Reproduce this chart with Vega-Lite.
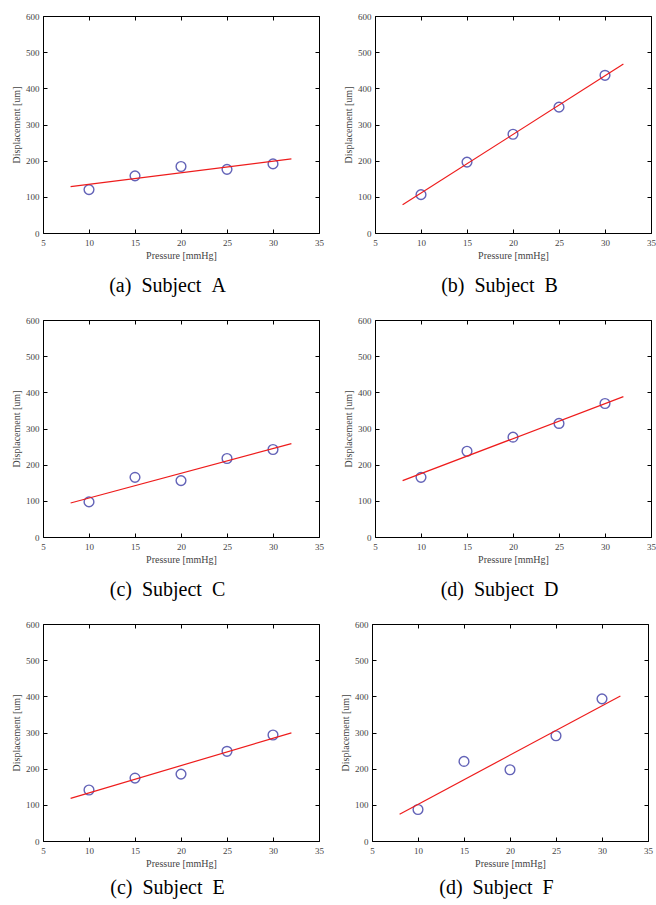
{
  "$schema": "https://vega.github.io/schema/vega-lite/v6.json",
  "background": "white",
  "padding": {"left": 11, "top": 11, "right": 0, "bottom": 0},
  "datasets": {
    "points": [
      {"subject": "A", "pressure": 10, "displacement": 120},
      {"subject": "A", "pressure": 15, "displacement": 158},
      {"subject": "A", "pressure": 20, "displacement": 184},
      {"subject": "A", "pressure": 25, "displacement": 176},
      {"subject": "A", "pressure": 30, "displacement": 191},
      {"subject": "B", "pressure": 10, "displacement": 106},
      {"subject": "B", "pressure": 15, "displacement": 196},
      {"subject": "B", "pressure": 20, "displacement": 273},
      {"subject": "B", "pressure": 25, "displacement": 348},
      {"subject": "B", "pressure": 30, "displacement": 436},
      {"subject": "C", "pressure": 10, "displacement": 97},
      {"subject": "C", "pressure": 15, "displacement": 165},
      {"subject": "C", "pressure": 20, "displacement": 156},
      {"subject": "C", "pressure": 25, "displacement": 217},
      {"subject": "C", "pressure": 30, "displacement": 242},
      {"subject": "D", "pressure": 10, "displacement": 165},
      {"subject": "D", "pressure": 15, "displacement": 237},
      {"subject": "D", "pressure": 20, "displacement": 276},
      {"subject": "D", "pressure": 25, "displacement": 314},
      {"subject": "D", "pressure": 30, "displacement": 369},
      {"subject": "E", "pressure": 10, "displacement": 141},
      {"subject": "E", "pressure": 15, "displacement": 174},
      {"subject": "E", "pressure": 20, "displacement": 185},
      {"subject": "E", "pressure": 25, "displacement": 248},
      {"subject": "E", "pressure": 30, "displacement": 293},
      {"subject": "F", "pressure": 10, "displacement": 87},
      {"subject": "F", "pressure": 15, "displacement": 220},
      {"subject": "F", "pressure": 20, "displacement": 197},
      {"subject": "F", "pressure": 25, "displacement": 291},
      {"subject": "F", "pressure": 30, "displacement": 393}
    ],
    "fits": [
      {"subject": "A", "pressure": 8, "displacement": 128},
      {"subject": "A", "pressure": 32, "displacement": 205},
      {"subject": "B", "pressure": 8, "displacement": 78},
      {"subject": "B", "pressure": 32, "displacement": 467},
      {"subject": "C", "pressure": 8, "displacement": 94},
      {"subject": "C", "pressure": 32, "displacement": 258},
      {"subject": "D", "pressure": 8, "displacement": 156},
      {"subject": "D", "pressure": 32, "displacement": 388},
      {"subject": "E", "pressure": 8, "displacement": 118},
      {"subject": "E", "pressure": 32, "displacement": 299},
      {"subject": "F", "pressure": 8, "displacement": 74},
      {"subject": "F", "pressure": 32, "displacement": 401}
    ]
  },
  "config": {
    "font": "Liberation Serif",
    "view": {"stroke": "black", "strokeWidth": 1},
    "axis": {
      "grid": false,
      "domain": false,
      "tickSize": -4,
      "tickColor": "black",
      "tickWidth": 1,
      "labelFont": "Liberation Serif",
      "labelFontSize": 9,
      "labelColor": "#444444",
      "labelFlush": false,
      "labelOverlap": false,
      "titleFont": "Liberation Serif",
      "titleFontSize": 10,
      "titleFontWeight": "normal",
      "titleColor": "#444444"
    },
    "title": {
      "orient": "bottom",
      "anchor": "middle",
      "frame": "bounds",
      "font": "Liberation Serif",
      "fontSize": 20,
      "fontWeight": "normal",
      "color": "black",
      "offset": 16
    }
  },
  "spacing": 18,
  "vconcat": [
    {
      "spacing": 19,
      "hconcat": [
        {
          "width": 276, "height": 217,
          "title": "(a)\u2002Subject\u2002A",
          "layer": [
            {"data": {"name": "points"}, "transform": [{"filter": "datum.subject == 'A'"}],
             "mark": {"type": "point", "shape": "circle", "filled": false, "color": "#22229a", "size": 95, "strokeWidth": 1.4},
             "encoding": {
               "x": {"field": "pressure", "type": "quantitative", "scale": {"domain": [5, 35], "nice": false, "zero": false}, "axis": {"values": [5, 10, 15, 20, 25, 30, 35], "title": "Pressure [mmHg]", "labelPadding": 9, "titlePadding": 3}},
               "y": {"field": "displacement", "type": "quantitative", "scale": {"domain": [0, 600], "nice": false}, "axis": {"values": [0, 100, 200, 300, 400, 500, 600], "title": "Displacement [um]", "labelPadding": 8, "titlePadding": 4}}
             }},
            {"data": {"name": "fits"}, "transform": [{"filter": "datum.subject == 'A'"}],
             "mark": {"type": "line", "color": "#ee1c1c", "strokeWidth": 1.2},
             "encoding": {
               "x": {"field": "pressure", "type": "quantitative", "axis": {"orient": "top", "values": [5, 10, 15, 20, 25, 30, 35], "labels": false, "title": null}},
               "y": {"field": "displacement", "type": "quantitative", "axis": {"orient": "right", "values": [0, 100, 200, 300, 400, 500, 600], "labels": false, "title": null}}
             }}
          ],
          "resolve": {"axis": {"x": "independent", "y": "independent"}}
        },
        {
          "width": 276, "height": 217,
          "title": "(b)\u2002Subject\u2002B",
          "layer": [
            {"data": {"name": "points"}, "transform": [{"filter": "datum.subject == 'B'"}],
             "mark": {"type": "point", "shape": "circle", "filled": false, "color": "#22229a", "size": 95, "strokeWidth": 1.4},
             "encoding": {
               "x": {"field": "pressure", "type": "quantitative", "scale": {"domain": [5, 35], "nice": false, "zero": false}, "axis": {"values": [5, 10, 15, 20, 25, 30, 35], "title": "Pressure [mmHg]", "labelPadding": 9, "titlePadding": 3}},
               "y": {"field": "displacement", "type": "quantitative", "scale": {"domain": [0, 600], "nice": false}, "axis": {"values": [0, 100, 200, 300, 400, 500, 600], "title": "Displacement [um]", "labelPadding": 8, "titlePadding": 4}}
             }},
            {"data": {"name": "fits"}, "transform": [{"filter": "datum.subject == 'B'"}],
             "mark": {"type": "line", "color": "#ee1c1c", "strokeWidth": 1.2},
             "encoding": {
               "x": {"field": "pressure", "type": "quantitative", "axis": {"orient": "top", "values": [5, 10, 15, 20, 25, 30, 35], "labels": false, "title": null}},
               "y": {"field": "displacement", "type": "quantitative", "axis": {"orient": "right", "values": [0, 100, 200, 300, 400, 500, 600], "labels": false, "title": null}}
             }}
          ],
          "resolve": {"axis": {"x": "independent", "y": "independent"}}
        }
      ]
    },
    {
      "spacing": 19,
      "hconcat": [
        {
          "width": 276, "height": 217,
          "title": "(c)\u2002Subject\u2002C",
          "layer": [
            {"data": {"name": "points"}, "transform": [{"filter": "datum.subject == 'C'"}],
             "mark": {"type": "point", "shape": "circle", "filled": false, "color": "#22229a", "size": 95, "strokeWidth": 1.4},
             "encoding": {
               "x": {"field": "pressure", "type": "quantitative", "scale": {"domain": [5, 35], "nice": false, "zero": false}, "axis": {"values": [5, 10, 15, 20, 25, 30, 35], "title": "Pressure [mmHg]", "labelPadding": 9, "titlePadding": 3}},
               "y": {"field": "displacement", "type": "quantitative", "scale": {"domain": [0, 600], "nice": false}, "axis": {"values": [0, 100, 200, 300, 400, 500, 600], "title": "Displacement [um]", "labelPadding": 8, "titlePadding": 4}}
             }},
            {"data": {"name": "fits"}, "transform": [{"filter": "datum.subject == 'C'"}],
             "mark": {"type": "line", "color": "#ee1c1c", "strokeWidth": 1.2},
             "encoding": {
               "x": {"field": "pressure", "type": "quantitative", "axis": {"orient": "top", "values": [5, 10, 15, 20, 25, 30, 35], "labels": false, "title": null}},
               "y": {"field": "displacement", "type": "quantitative", "axis": {"orient": "right", "values": [0, 100, 200, 300, 400, 500, 600], "labels": false, "title": null}}
             }}
          ],
          "resolve": {"axis": {"x": "independent", "y": "independent"}}
        },
        {
          "width": 276, "height": 217,
          "title": "(d)\u2002Subject\u2002D",
          "layer": [
            {"data": {"name": "points"}, "transform": [{"filter": "datum.subject == 'D'"}],
             "mark": {"type": "point", "shape": "circle", "filled": false, "color": "#22229a", "size": 95, "strokeWidth": 1.4},
             "encoding": {
               "x": {"field": "pressure", "type": "quantitative", "scale": {"domain": [5, 35], "nice": false, "zero": false}, "axis": {"values": [5, 10, 15, 20, 25, 30, 35], "title": "Pressure [mmHg]", "labelPadding": 9, "titlePadding": 3}},
               "y": {"field": "displacement", "type": "quantitative", "scale": {"domain": [0, 600], "nice": false}, "axis": {"values": [0, 100, 200, 300, 400, 500, 600], "title": "Displacement [um]", "labelPadding": 8, "titlePadding": 4}}
             }},
            {"data": {"name": "fits"}, "transform": [{"filter": "datum.subject == 'D'"}],
             "mark": {"type": "line", "color": "#ee1c1c", "strokeWidth": 1.2},
             "encoding": {
               "x": {"field": "pressure", "type": "quantitative", "axis": {"orient": "top", "values": [5, 10, 15, 20, 25, 30, 35], "labels": false, "title": null}},
               "y": {"field": "displacement", "type": "quantitative", "axis": {"orient": "right", "values": [0, 100, 200, 300, 400, 500, 600], "labels": false, "title": null}}
             }}
          ],
          "resolve": {"axis": {"x": "independent", "y": "independent"}}
        }
      ]
    },
    {
      "spacing": 16,
      "hconcat": [
        {
          "width": 276, "height": 217,
          "title": {"text": "(c)\u2002Subject\u2002E", "offset": 10},
          "layer": [
            {"data": {"name": "points"}, "transform": [{"filter": "datum.subject == 'E'"}],
             "mark": {"type": "point", "shape": "circle", "filled": false, "color": "#22229a", "size": 95, "strokeWidth": 1.4},
             "encoding": {
               "x": {"field": "pressure", "type": "quantitative", "scale": {"domain": [5, 35], "nice": false, "zero": false}, "axis": {"values": [5, 10, 15, 20, 25, 30, 35], "title": "Pressure [mmHg]", "labelPadding": 9, "titlePadding": 3}},
               "y": {"field": "displacement", "type": "quantitative", "scale": {"domain": [0, 600], "nice": false}, "axis": {"values": [0, 100, 200, 300, 400, 500, 600], "title": "Displacement [um]", "labelPadding": 8, "titlePadding": 4}}
             }},
            {"data": {"name": "fits"}, "transform": [{"filter": "datum.subject == 'E'"}],
             "mark": {"type": "line", "color": "#ee1c1c", "strokeWidth": 1.2},
             "encoding": {
               "x": {"field": "pressure", "type": "quantitative", "axis": {"orient": "top", "values": [5, 10, 15, 20, 25, 30, 35], "labels": false, "title": null}},
               "y": {"field": "displacement", "type": "quantitative", "axis": {"orient": "right", "values": [0, 100, 200, 300, 400, 500, 600], "labels": false, "title": null}}
             }}
          ],
          "resolve": {"axis": {"x": "independent", "y": "independent"}}
        },
        {
          "width": 276, "height": 217,
          "title": {"text": "(d)\u2002Subject\u2002F", "offset": 10},
          "layer": [
            {"data": {"name": "points"}, "transform": [{"filter": "datum.subject == 'F'"}],
             "mark": {"type": "point", "shape": "circle", "filled": false, "color": "#22229a", "size": 95, "strokeWidth": 1.4},
             "encoding": {
               "x": {"field": "pressure", "type": "quantitative", "scale": {"domain": [5, 35], "nice": false, "zero": false}, "axis": {"values": [5, 10, 15, 20, 25, 30, 35], "title": "Pressure [mmHg]", "labelPadding": 9, "titlePadding": 3}},
               "y": {"field": "displacement", "type": "quantitative", "scale": {"domain": [0, 600], "nice": false}, "axis": {"values": [0, 100, 200, 300, 400, 500, 600], "title": "Displacement [um]", "labelPadding": 8, "titlePadding": 4}}
             }},
            {"data": {"name": "fits"}, "transform": [{"filter": "datum.subject == 'F'"}],
             "mark": {"type": "line", "color": "#ee1c1c", "strokeWidth": 1.2},
             "encoding": {
               "x": {"field": "pressure", "type": "quantitative", "axis": {"orient": "top", "values": [5, 10, 15, 20, 25, 30, 35], "labels": false, "title": null}},
               "y": {"field": "displacement", "type": "quantitative", "axis": {"orient": "right", "values": [0, 100, 200, 300, 400, 500, 600], "labels": false, "title": null}}
             }}
          ],
          "resolve": {"axis": {"x": "independent", "y": "independent"}}
        }
      ]
    }
  ]
}
